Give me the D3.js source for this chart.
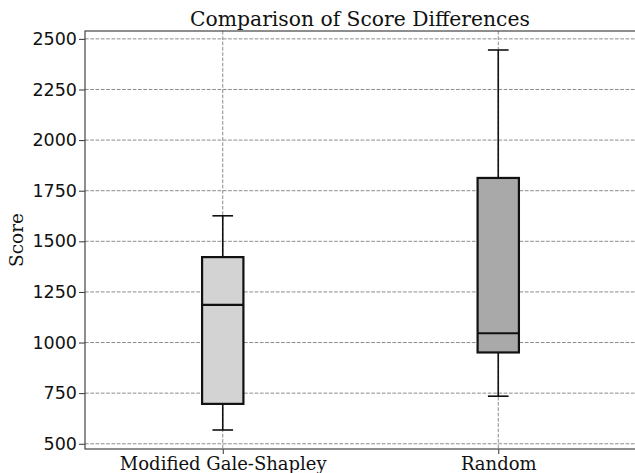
<!DOCTYPE html>
<html>
<head>
<meta charset="utf-8">
<script src="https://cdn.jsdelivr.net/npm/d3@7"></script>
<style>
  html, body { margin: 0; padding: 0; background: #fff; }
  svg { display: block; }
</style>
</head>
<body>
<svg id="chart" width="635" height="473"></svg>
<script>
// ---- Data ----
const categories = ["Modified Gale-Shapley", "Random"];
const whiskerLow = [568, 735];
const q1 = [697, 951];
const median = [1186, 1046];
const q3 = [1422, 1813];
const whiskerHigh = [1626, 2445];
const fills = ["#d3d3d3", "#a9a9a9"];
const yTicks = [500, 750, 1000, 1250, 1500, 1750, 2000, 2250, 2500];
const title = "Comparison of Score Differences";
const yLabel = "Score";

// ---- Layout ----
const W = 635, H = 473;
const m = { left: 85, top: 31, right: -1, bottom: 24 };
const plotW = W - m.left - m.right;
const plotH = H - m.top - m.bottom;

const svg = d3.select("#chart");
const g = svg.append("g").attr("transform", `translate(${m.left},${m.top})`);

const positions = categories.map((_, i) => i + 1);
const x = d3.scaleLinear().domain([0.5, categories.length + 0.5]).range([0, plotW]);
const lo = d3.min(whiskerLow), hi = d3.max(whiskerHigh);
const pad = (hi - lo) * 0.05;
const y = d3.scaleLinear().domain([lo - pad, hi + pad]).range([plotH, 0]);

const serif = "'DejaVu Serif', serif";
const sans = "'DejaVu Sans', sans-serif";

// Grid
g.append("g").selectAll("line").data(yTicks).join("line")
  .attr("x1", 0).attr("x2", plotW)
  .attr("y1", d => y(d)).attr("y2", d => y(d))
  .attr("stroke", "#8c8c8c").attr("stroke-width", 1).attr("stroke-dasharray", "3.7,1.6");
g.append("g").selectAll("line").data(positions).join("line")
  .attr("x1", d => x(d)).attr("x2", d => x(d))
  .attr("y1", 0).attr("y2", plotH)
  .attr("stroke", "#8c8c8c").attr("stroke-width", 1).attr("stroke-dasharray", "3.7,1.6");

// Axes
const yAxis = d3.axisLeft(y).tickValues(yTicks).tickFormat(d3.format("d")).tickSize(6).tickPadding(2);
const yg = g.append("g").call(yAxis);
yg.select(".domain").remove();
yg.selectAll(".tick line").attr("stroke", "#333").attr("stroke-width", 1);
yg.selectAll(".tick text").attr("font-family", sans).attr("font-size", 17.5).attr("fill", "#111");

const xAxis = d3.axisBottom(x).tickValues(positions).tickFormat((d, i) => categories[i]).tickSize(5).tickPadding(3);
const xg = g.append("g").attr("transform", `translate(0,${plotH})`).call(xAxis);
xg.select(".domain").remove();
xg.selectAll(".tick line").attr("stroke", "#333").attr("stroke-width", 1);
xg.selectAll(".tick text").attr("font-family", serif).attr("font-size", 18).attr("fill", "#111");

// Frame
g.append("rect").attr("x", 0).attr("y", 0).attr("width", plotW).attr("height", plotH)
  .attr("fill", "none").attr("stroke", "#444").attr("stroke-width", 1.2);

// Boxes
const boxW = x(1.075) - x(0.925);
const capW = x(1.0375) - x(0.9625);
const boxes = g.append("g").selectAll("g").data(positions).join("g");
boxes.append("line")
  .attr("x1", d => x(d)).attr("x2", d => x(d))
  .attr("y1", (d, i) => y(whiskerHigh[i])).attr("y2", (d, i) => y(q3[i]))
  .attr("stroke", "#111").attr("stroke-width", 1.6);
boxes.append("line")
  .attr("x1", d => x(d)).attr("x2", d => x(d))
  .attr("y1", (d, i) => y(q1[i])).attr("y2", (d, i) => y(whiskerLow[i]))
  .attr("stroke", "#111").attr("stroke-width", 1.6);
boxes.append("line")
  .attr("x1", d => x(d) - capW / 2).attr("x2", d => x(d) + capW / 2)
  .attr("y1", (d, i) => y(whiskerHigh[i])).attr("y2", (d, i) => y(whiskerHigh[i]))
  .attr("stroke", "#111").attr("stroke-width", 1.6);
boxes.append("line")
  .attr("x1", d => x(d) - capW / 2).attr("x2", d => x(d) + capW / 2)
  .attr("y1", (d, i) => y(whiskerLow[i])).attr("y2", (d, i) => y(whiskerLow[i]))
  .attr("stroke", "#111").attr("stroke-width", 1.6);
boxes.append("rect")
  .attr("x", d => x(d) - boxW / 2).attr("width", boxW)
  .attr("y", (d, i) => y(q3[i])).attr("height", (d, i) => y(q1[i]) - y(q3[i]))
  .attr("fill", (d, i) => fills[i]).attr("stroke", "#111").attr("stroke-width", 2.2);
boxes.append("line")
  .attr("x1", d => x(d) - boxW / 2).attr("x2", d => x(d) + boxW / 2)
  .attr("y1", (d, i) => y(median[i])).attr("y2", (d, i) => y(median[i]))
  .attr("stroke", "#111").attr("stroke-width", 2.2);

// Title
svg.append("text").attr("x", 360).attr("y", 26)
  .attr("text-anchor", "middle").attr("font-family", serif).attr("font-size", 20.3).attr("fill", "#111")
  .text(title);

// Y label
svg.append("text")
  .attr("transform", `translate(23,${m.top + plotH / 2}) rotate(-90)`)
  .attr("text-anchor", "middle").attr("font-family", serif).attr("font-size", 18.5).attr("fill", "#111")
  .text(yLabel);
</script>
</body>
</html>
